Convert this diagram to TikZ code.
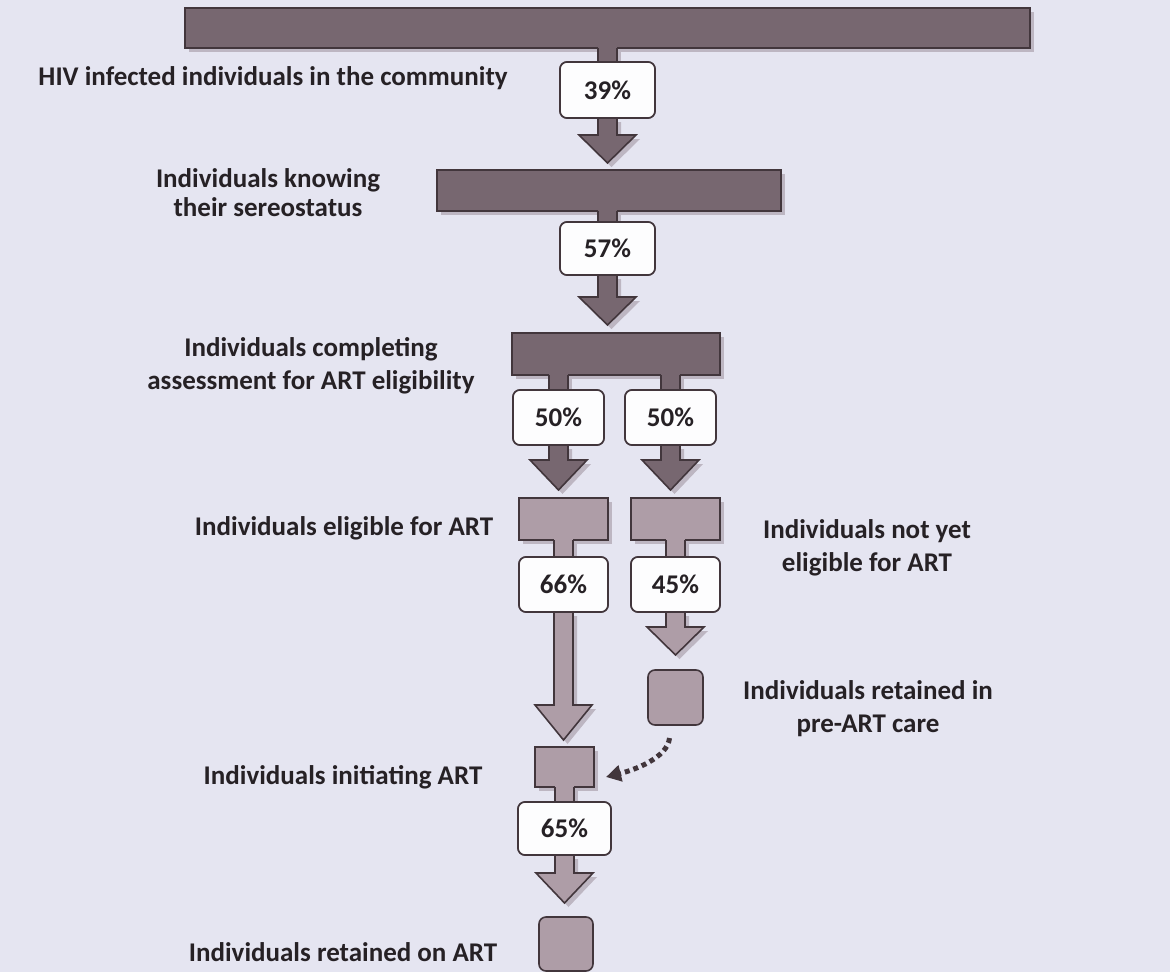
\documentclass[tikz,border=0pt]{standalone}
\usepackage{fontspec}
\setmainfont{Carlito}
\usetikzlibrary{calc,shadows,arrows.meta}

\definecolor{pagebg}{HTML}{E5E5F1}
\definecolor{darkfill}{HTML}{776770}
\definecolor{lightfill}{HTML}{AE9DA7}
\definecolor{edge}{HTML}{42363C}
\definecolor{shade}{HTML}{BDB6C2}
\definecolor{ink}{HTML}{262125}
\definecolor{boxfill}{HTML}{FDFDFE}

\tikzset{
  every node/.style={inner sep=0pt, outer sep=0pt},
  outline/.style={draw=edge, line width=1.6pt},
  shadowed/.style={general shadow={shadow xshift=4pt, shadow yshift=-4pt, fill=shade}},
  darkbar/.style={outline, fill=darkfill, shadowed, anchor=north west},
  lightbar/.style={outline, fill=lightfill, shadowed, anchor=north west},
  lightcard/.style={outline, fill=lightfill, rounded corners=7pt, anchor=north west},
  pctbox/.style={outline, fill=boxfill, rounded corners=7pt, anchor=north west,
    text=ink, font=\bfseries\fontsize{27}{31}\selectfont},
  caption/.style={text=ink, align=center, font=\bfseries\fontsize{27}{33}\selectfont},
  hint/.style={draw=edge, line width=5pt, dash pattern=on 5pt off 4pt,
    -{Triangle[length=15pt,width=16pt]}}
}

% stem joining a bar (#1) to the box below it (#2), filled with #3
\newcommand\tstem[3]{%
  \path[fill=#3, shadowed] let \p1=(#2.north), \p2=(#1.south) in
    (\x1-9.5pt,\y2+1.5pt) rectangle (\x1+9.5pt,\y1);
  \draw[outline] let \p1=(#2.north), \p2=(#1.south) in
    (\x1-9.5pt,\y2) -- (\x1-9.5pt,\y1) (\x1+9.5pt,\y2) -- (\x1+9.5pt,\y1);
}

% block arrow from the box #1 towards node #2: fill #3, gap #4 above #2, head length #5
\newcommand\blockflow[5]{%
  \path[outline, fill=#3, shadowed] let \p1=(#1.south), \p2=(#2.north) in
    (\x1-9.5pt,\y1) -- (\x1-9.5pt,\y2+#4+#5) -- (\x1-28.5pt,\y2+#4+#5)
    -- (\x1,\y2+#4) -- (\x1+28.5pt,\y2+#4+#5) -- (\x1+9.5pt,\y2+#4+#5)
    -- (\x1+9.5pt,\y1);
}

\begin{document}
\begin{tikzpicture}[x=1pt,y=-1pt]
\fill[pagebg] (0,0) rectangle (1170,972);
\useasboundingbox (0,0) rectangle (1170,972);

% bars and blocks
\node[darkbar, minimum width=845pt, minimum height=40pt] (bar1) at (185,8) {};
\node[darkbar, minimum width=344pt, minimum height=41pt] (bar2) at (437,170) {};
\node[darkbar, minimum width=208pt, minimum height=42pt] (bar3) at (512,333) {};
\node[lightbar, minimum width=89pt, minimum height=42pt] (bar4l) at (519,498) {};
\node[lightbar, minimum width=89pt, minimum height=42pt] (bar4r) at (631,498) {};
\node[lightbar, minimum width=59pt, minimum height=40pt] (init) at (535,747) {};
\node[lightcard, minimum width=55pt, minimum height=55pt] (preart) at (648,670) {};
\node[lightcard, minimum width=54pt, minimum height=54pt] (onart) at (539,917) {};

% percentage boxes (placed first so the stems can refer to them)
\path
  node[pctbox, minimum width=95pt, minimum height=56pt] (p39) at (560,62) {}
  node[pctbox, minimum width=95pt, minimum height=53pt] (p57) at (560,222) {}
  node[pctbox, minimum width=91pt, minimum height=55pt] (p50l) at (513,390) {}
  node[pctbox, minimum width=91pt, minimum height=55pt] (p50r) at (625,390) {}
  node[pctbox, minimum width=89pt, minimum height=55pt] (p66) at (519,557) {}
  node[pctbox, minimum width=89pt, minimum height=55pt] (p45) at (631,557) {}
  node[pctbox, minimum width=93pt, minimum height=53pt] (p65) at (518,802) {};

% stems under the bars
\tstem{bar1}{p39}{darkfill}
\tstem{bar2}{p57}{darkfill}
\tstem{bar3}{p50l}{darkfill}
\tstem{bar3}{p50r}{darkfill}
\tstem{bar4l}{p66}{lightfill}
\tstem{bar4r}{p45}{lightfill}
\tstem{init}{p65}{lightfill}

% block arrows
\blockflow{p39}{bar2}{darkfill}{7pt}{28pt}
\blockflow{p57}{bar3}{darkfill}{8pt}{28pt}
\blockflow{p50l}{bar4l}{darkfill}{8pt}{30pt}
\blockflow{p50r}{bar4r}{darkfill}{8pt}{30pt}
\blockflow{p66}{init}{lightfill}{7pt}{35pt}
\blockflow{p45}{preart}{lightfill}{15pt}{28pt}
\blockflow{p65}{onart}{lightfill}{14pt}{30pt}

% percentage boxes drawn on top
\node[pctbox, minimum width=95pt, minimum height=56pt] at (560,62) {39\%};
\node[pctbox, minimum width=95pt, minimum height=53pt] at (560,222) {57\%};
\node[pctbox, minimum width=91pt, minimum height=55pt] at (513,390) {50\%};
\node[pctbox, minimum width=91pt, minimum height=55pt] at (625,390) {50\%};
\node[pctbox, minimum width=89pt, minimum height=55pt] at (519,557) {66\%};
\node[pctbox, minimum width=89pt, minimum height=55pt] at (631,557) {45\%};
\node[pctbox, minimum width=93pt, minimum height=53pt] at (518,802) {65\%};

% dotted link from pre-ART care into ART initiation
\coordinate (hs) at ($(preart.south)+(-6pt,-13pt)$);
\coordinate (he) at ($(init.east)+(12pt,-10pt)$);
\draw[hint] (hs) .. controls ($(hs)+(-2pt,-20pt)$) and ($(he)+(28pt,7pt)$) .. (he);

% captions
\node[caption] (c1) at (273,78) {HIV infected individuals in the community};
\node[caption, font=\bfseries\fontsize{27}{29}\selectfont] (c2) at (268,193) {Individuals knowing\\their sereostatus};
\node[caption] (c3) at (311,366) {Individuals completing\\assessment for ART eligibility};
\node[caption] (c4) at (344,528) {Individuals eligible for ART};
\node[caption] (c5) at (867,548) {Individuals not yet\\eligible for ART};
\node[caption] (c6) at (868,709) {Individuals retained in\\pre-ART care};
\node[caption] (c7) at (343,777) {Individuals initiating ART};
\node[caption] (c8) at (343,952) {Individuals retained on ART};
\end{tikzpicture}
\end{document}
